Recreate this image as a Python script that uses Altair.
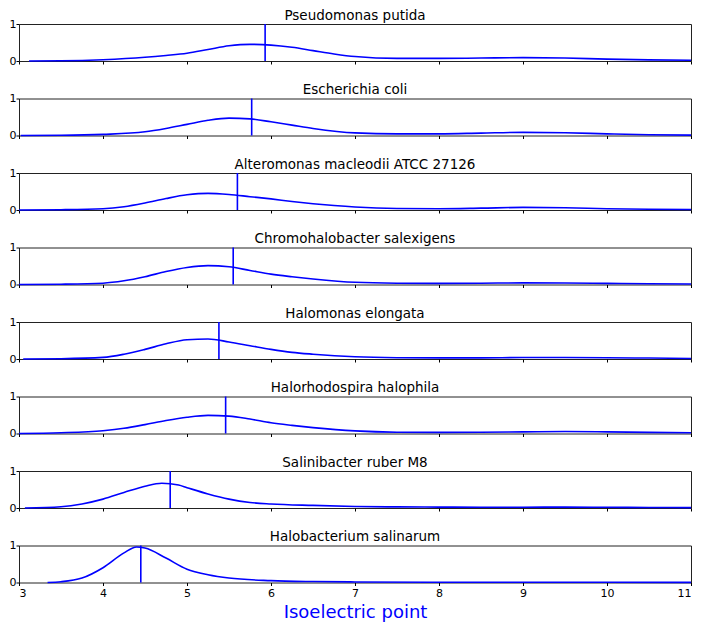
import altair as alt
import pandas as pd

species = [
    "Pseudomonas putida",
    "Escherichia coli",
    "Alteromonas macleodii ATCC 27126",
    "Chromohalobacter salexigens",
    "Halomonas elongata",
    "Halorhodospira halophila",
    "Salinibacter ruber M8",
    "Halobacterium salinarum",
]

medians = [5.93, 5.77, 5.60, 5.55, 5.38, 5.46, 4.80, 4.45]

x_putida = [3.12, 3.5, 4.0, 4.5, 4.75, 5.0, 5.25, 5.5, 5.75, 6.0, 6.25, 6.5, 6.75, 7.0, 7.5, 8.0, 8.5, 9.0, 9.5, 10.0, 10.5, 11.0]
y_putida = [0.0, 0.005, 0.035, 0.1, 0.15, 0.21, 0.31, 0.41, 0.45, 0.43, 0.37, 0.28, 0.19, 0.12, 0.07, 0.07, 0.08, 0.09, 0.08, 0.05, 0.03, 0.02]

x_coli = [3.02, 3.5, 4.0, 4.5, 4.75, 5.0, 5.25, 5.5, 5.75, 6.0, 6.25, 6.5, 7.0, 7.5, 8.0, 8.5, 9.0, 9.5, 10.0, 10.5, 11.0]
y_coli = [0.0, 0.005, 0.03, 0.1, 0.19, 0.30, 0.41, 0.47, 0.45, 0.37, 0.28, 0.19, 0.07, 0.045, 0.045, 0.065, 0.085, 0.075, 0.045, 0.02, 0.01]

x_altero = [3.0, 3.5, 4.0, 4.25, 4.5, 4.75, 5.0, 5.25, 5.5, 5.75, 6.0, 6.25, 6.5, 6.75, 7.0, 7.5, 8.0, 8.5, 9.0, 9.5, 10.0, 10.5, 11.0]
y_altero = [0.0, 0.008, 0.035, 0.09, 0.19, 0.31, 0.41, 0.45, 0.42, 0.36, 0.30, 0.23, 0.17, 0.12, 0.08, 0.04, 0.035, 0.05, 0.07, 0.06, 0.035, 0.02, 0.015]

x_chromo = [3.0, 3.5, 4.0, 4.25, 4.5, 4.75, 5.0, 5.25, 5.5, 5.75, 6.0, 6.25, 6.5, 7.0, 7.5, 8.0, 8.5, 9.0, 9.5, 10.0, 10.5, 11.0]
y_chromo = [0.0, 0.008, 0.035, 0.1, 0.21, 0.35, 0.46, 0.51, 0.48, 0.38, 0.28, 0.21, 0.15, 0.06, 0.035, 0.03, 0.035, 0.045, 0.04, 0.03, 0.02, 0.015]

x_halomonas = [3.05, 3.5, 4.0, 4.25, 4.5, 4.75, 5.0, 5.25, 5.5, 5.75, 6.0, 6.25, 6.5, 7.0, 7.5, 8.0, 8.5, 9.0, 9.5, 10.0, 10.5, 11.0]
y_halomonas = [0.0, 0.008, 0.045, 0.13, 0.26, 0.41, 0.52, 0.54, 0.46, 0.36, 0.26, 0.18, 0.13, 0.06, 0.035, 0.03, 0.03, 0.04, 0.04, 0.035, 0.025, 0.015]

x_halorhodo = [3.0, 3.5, 4.0, 4.25, 4.5, 4.75, 5.0, 5.25, 5.5, 5.75, 6.0, 6.25, 6.5, 7.0, 7.5, 8.0, 8.5, 9.0, 9.5, 10.0, 10.5, 11.0]
y_halorhodo = [0.0, 0.02, 0.075, 0.14, 0.24, 0.35, 0.44, 0.49, 0.47, 0.39, 0.29, 0.22, 0.16, 0.07, 0.035, 0.03, 0.035, 0.045, 0.055, 0.045, 0.03, 0.02]

x_salini = [3.07, 3.5, 3.75, 4.0, 4.25, 4.5, 4.7, 4.9, 5.0, 5.25, 5.5, 5.75, 6.0, 6.5, 7.0, 7.5, 8.0, 8.5, 9.0, 9.5, 10.0, 10.5, 11.0]
y_salini = [0.0, 0.035, 0.11, 0.24, 0.42, 0.59, 0.67, 0.62, 0.55, 0.38, 0.24, 0.15, 0.11, 0.07, 0.04, 0.03, 0.025, 0.02, 0.02, 0.025, 0.02, 0.015, 0.01]

x_halobac = [3.34, 3.5, 3.75, 4.0, 4.25, 4.4, 4.5, 4.75, 5.0, 5.25, 5.5, 6.0, 6.5, 7.0, 8.0, 9.0, 10.0, 11.0]
y_halobac = [0.0, 0.02, 0.12, 0.40, 0.80, 0.96, 0.93, 0.66, 0.36, 0.21, 0.12, 0.05, 0.025, 0.015, 0.008, 0.006, 0.006, 0.004]

curves = [
    (x_putida, y_putida),
    (x_coli, y_coli),
    (x_altero, y_altero),
    (x_chromo, y_chromo),
    (x_halomonas, y_halomonas),
    (x_halorhodo, y_halorhodo),
    (x_salini, y_salini),
    (x_halobac, y_halobac),
]

FONT = "DejaVu Sans"
BLUE = "#0000ff"
W, H = 672, 37

panels = []
n = len(species)
for i, (name, (xs, ys), med) in enumerate(zip(species, curves, medians)):
    last = i == n - 1
    df = pd.DataFrame({"x": xs, "y": ys})
    mdf = pd.DataFrame({"m": [med]})
    xaxis = alt.Axis(
        values=list(range(3, 12)),
        format="d",
        labels=last,
        title="Isoelectric point" if last else None,
        titleColor=BLUE,
        titleFontSize=18,
        titleFontWeight="normal",
        titleFont=FONT,
        titlePadding=5,
        labelFont=FONT,
        labelFontSize=11,
        labelColor="black",
        labelPadding=2,
        tickSize=3,
        tickColor="black",
        domain=False,
        grid=False,
        minExtent=0,
    )
    xscale = alt.Scale(domain=[3, 11], nice=False, zero=False)
    line = alt.Chart(df).mark_line(color=BLUE, strokeWidth=1.6, interpolate="monotone").encode(
        x=alt.X("x:Q", scale=xscale, axis=xaxis),
        y=alt.Y(
            "y:Q",
            scale=alt.Scale(domain=[0, 1], nice=False),
            axis=alt.Axis(
                values=[0, 1],
                format="d",
                title=None,
                labelFont=FONT,
                labelFontSize=11,
                labelColor="black",
                labelPadding=0,
                tickSize=3,
                tickColor="black",
                domain=False,
                grid=False,
                minExtent=0,
            ),
        ),
    )
    rule = alt.Chart(mdf).mark_rule(color=BLUE, strokeWidth=1.6).encode(
        x=alt.X("m:Q", scale=xscale)
    )
    panel = alt.layer(line, rule).properties(
        width=W,
        height=H,
        title=alt.TitleParams(
            text=name,
            font=FONT,
            fontSize=13.5,
            fontWeight="normal",
            color="black",
            anchor="middle",
            frame="group",
            offset=-4,
        ),
    )
    panels.append(panel)

chart = alt.vconcat(*panels, spacing=15.5).properties(padding=0).configure_view(
    stroke="#222222", strokeWidth=1
)

chart.save("out.html", embed_options={"renderer": "svg", "actions": False})
